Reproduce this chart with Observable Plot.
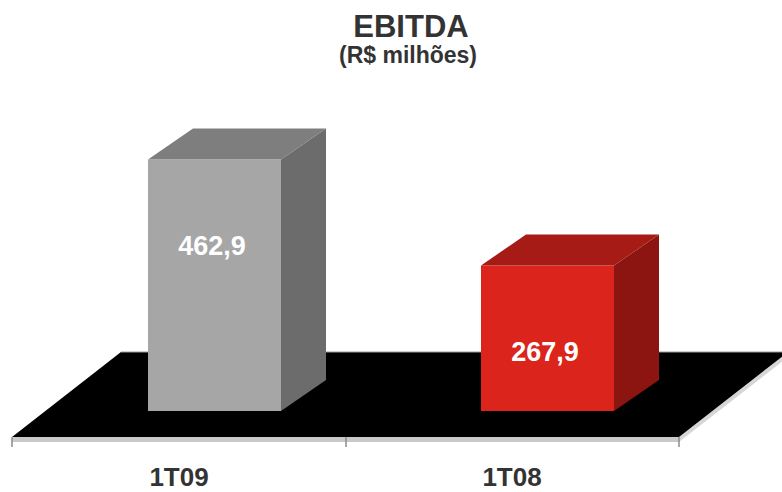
<!DOCTYPE html>
<html>
<head>
<meta charset="utf-8">
<script src="https://cdn.jsdelivr.net/npm/d3@7"></script>
<script src="https://cdn.jsdelivr.net/npm/@observablehq/plot@0.6"></script>
<style>
  html, body { margin: 0; padding: 0; background: #fff; }
  body { width: 782px; height: 492px; overflow: hidden; font-family: "Liberation Sans", Arial, sans-serif; }
  #head { position: relative; width: 782px; height: 80px; }
  #title, #subtitle { position: absolute; left: 40px; right: 0; text-align: center; font-weight: bold; color: #333; white-space: nowrap; }
  #title { top: 11px; font-size: 31px; line-height: 31px; }
  #subtitle { top: 44px; font-size: 23px; line-height: 23px; left: 34px; }
  #chart svg { display: block; }
</style>
</head>
<body>
<div id="head"><div id="title"></div><div id="subtitle"></div></div>
<div id="chart"></div>
<script>
// ---- data ----
const title = "EBITDA";
const subtitle = "(R$ milhões)";
const categories = ["1T09", "1T08"];
const values = [462.9, 267.9];
const valueLabels = ["462,9", "267,9"];
const frontColors = ["#a6a6a6", "#da241c"];
const topColors = ["#7e7e7e", "#a61b15"];
const sideColors = ["#6c6c6c", "#8c1511"];

document.getElementById("title").textContent = title;
document.getElementById("subtitle").textContent = subtitle;

const data = categories.map((c, i) => ({cat: c, value: values[i], label: valueLabels[i], i}));

// layout (pixels)
const W = 782, H = 412;
const inset = 100;          // gap between band edge and bar front face
const barShift = 35;        // bars sit part way back on the floor
const depth = [45, -31];    // bar depth vector
const floorDepth = [109, -85];
const floorFrontDrop = 26;  // floor front edge below bar base
const labelDy = 86;

const plot = Plot.plot({
  width: W,
  height: H,
  marginTop: 0, marginRight: 0, marginBottom: 0, marginLeft: 0,
  style: {background: "transparent", fontFamily: "'Liberation Sans', Arial, sans-serif", overflow: "visible"},
  x: {domain: categories, range: [12, 679], padding: 0, axis: null},
  y: {domain: [0, 600], range: [331, 331 - 0.5431 * 600], axis: null},
  marks: [
    Plot.barY(data, {x: "cat", y1: 0, y2: "value", fill: d => frontColors[d.i], dx: barShift, insetLeft: inset, insetRight: inset}),
    Plot.text(data, {x: "cat", y: "value", text: "label", dx: barShift - 3, dy: labelDy, fill: "white", fontSize: 27, fontWeight: "bold", lineAnchor: "middle"}),
    Plot.text(categories, {x: d => d, text: d => d, frameAnchor: "bottom", lineAnchor: "bottom", dy: -7, dx: -1, fill: "#333", fontSize: 26, fontWeight: "bold"})
  ]
});

// 3D decoration via the plot's own scales
const xs = plot.scale("x"), ys = plot.scale("y");
const svg = d3.select(plot);
const barGroup = plot.querySelector('g[aria-label="bar"]');
const y0 = ys.apply(0);
const [rx0, rx1] = xs.range;
const yF = y0 + floorFrontDrop, yB = yF + floorDepth[1];

const floor = svg.insert("g", () => barGroup);
// floor thickness (front and right side)
floor.append("polygon")
  .attr("points", [[rx1, yF], [rx1 + floorDepth[0], yB], [rx1 + floorDepth[0], yB + 5], [rx1, yF + 5]].join(" "))
  .attr("fill", "#d6d6d6");
floor.append("rect").attr("x", rx0).attr("y", yF).attr("width", rx1 - rx0).attr("height", 5).attr("fill", "#c9c9c9");
floor.append("polygon")
  .attr("points", [[rx0, yF], [rx1, yF], [rx1 + floorDepth[0], yB], [rx0 + floorDepth[0], yB]].join(" "))
  .attr("fill", "#000");
floor.append("line").attr("x1", rx0 + floorDepth[0]).attr("x2", rx1 + floorDepth[0]).attr("y1", yB).attr("y2", yB)
  .attr("stroke", "#9a9a9a").attr("stroke-width", 1);
// ticks at band boundaries
const edges = [rx0, ...categories.map(c => xs.apply(c) + xs.bandwidth)];
floor.selectAll("line.tick").data(edges).join("line").attr("class", "tick")
  .attr("x1", d => d).attr("x2", d => d).attr("y1", yF).attr("y2", yF + 10)
  .attr("stroke", "#8a8a8a").attr("stroke-width", 1.5);

// side and top faces
const faces = svg.insert("g", () => barGroup.nextSibling);
data.forEach(d => {
  const xl = xs.apply(d.cat) + inset + barShift;
  const xr = xs.apply(d.cat) + xs.bandwidth - inset + barShift;
  const yt = ys.apply(d.value), yb = ys.apply(0);
  faces.append("polygon")
    .attr("points", [[xr, yt], [xr + depth[0], yt + depth[1]], [xr + depth[0], yb + depth[1]], [xr, yb]].join(" "))
    .attr("fill", sideColors[d.i]);
  faces.append("polygon")
    .attr("points", [[xl, yt], [xl + depth[0], yt + depth[1]], [xr + depth[0], yt + depth[1]], [xr, yt]].join(" "))
    .attr("fill", topColors[d.i]);
});

document.getElementById("chart").appendChild(plot);
</script>
</body>
</html>
